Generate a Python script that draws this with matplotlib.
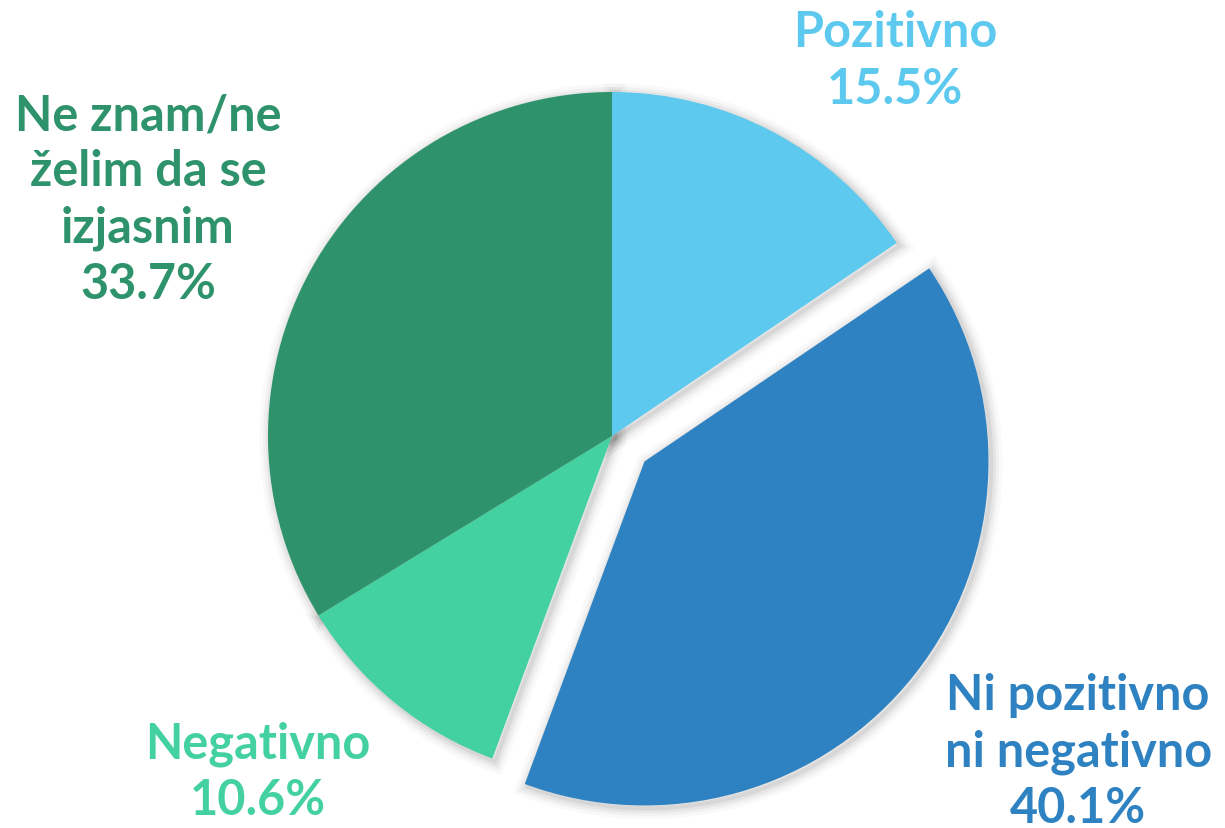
import matplotlib.pyplot as plt

labels = ["Pozitivno", "Ni pozitivno\nni negativno", "Negativno", "Ne znam/ne\nželim da se\nizjasnim"]
values = [15.5, 40.1, 10.6, 33.7]
colors = ["#5DC9EE", "#2E82C1", "#44D1A2", "#2E936C"]
explode = [0, 0.12, 0, 0]

# label block centres (data units, radius = 1)
label_pos = [(0.823, 1.093), (1.355, -0.916), (-1.029, -0.974), (-1.349, 0.689)]

plt.rcParams['font.family'] = ['Lato', 'DejaVu Sans']

fig = plt.figure(figsize=(12.25, 8.29), dpi=100)
ax = fig.add_axes([0, 0, 1, 1])

# soft shadow under the slices
for lw, a in [(16, 0.025), (11, 0.035), (7, 0.045), (3, 0.06)]:
    ax.pie(values, explode=explode, startangle=90, counterclock=False,
           colors=['none'] * 4, center=(0.008, -0.008),
           wedgeprops=dict(edgecolor=(0, 0, 0, a), linewidth=lw))

ax.pie(values, explode=explode, startangle=90, counterclock=False,
       colors=colors, wedgeprops=dict(linewidth=0))

for lab, v, c, (x, y) in zip(labels, values, colors, label_pos):
    ax.text(x, y, "%s\n%.1f%%" % (lab, v), color=c, fontsize=35, fontweight='bold',
            ha='center', va='center', linespacing=1.3)

ax.set_xlim(-612 / 344, (1225 - 612) / 344)
ax.set_ylim((437 - 829) / 344, 437 / 344)
ax.set_aspect('equal')
ax.axis('off')

fig.savefig("out.png", dpi=100)
